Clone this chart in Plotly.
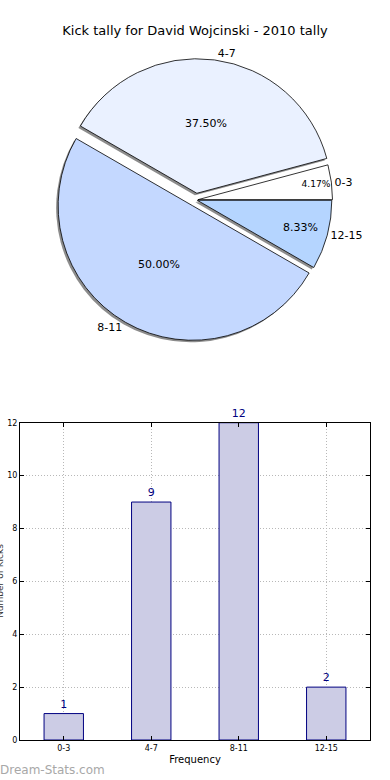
import plotly.graph_objects as go

title = "Kick tally for David Wojcinski - 2010 tally"
categories = ["0-3", "4-7", "8-11", "12-15"]
counts = [1, 9, 12, 2]
pie_colors = ["#FFFFFF", "#EAF1FF", "#C4D8FF", "#B5D5FF"]
pulls = [0.015, 0.05, 0.05, 0.01]
y_ticks = [0, 2, 4, 6, 8, 10, 12]

W, H = 390, 780
ml, mr, mt, mb = 20, 20, 0, 40
pw, ph = W - ml - mr, H - mt - mb

def px_x(x):
    return (x - ml) / pw

def px_y(y):
    return (H - mb - y) / ph

cx, cy, size = 196, 197, 284
dx = size / 2 / pw
dy = size / 2 / ph
xd = [px_x(cx) - dx, px_x(cx) + dx]
yd = [px_y(cy) - dy, px_y(cy) + dy]
sx, sy = -2 / pw, -2 / ph

common_pie = dict(labels=categories, values=counts, sort=False, direction="counterclockwise",
                  rotation=75, pull=pulls, showlegend=False)

fig = go.Figure()
# shadow
fig.add_trace(go.Pie(
    marker=dict(colors=["rgba(0,0,0,0.45)"] * 4, line=dict(width=0)),
    textinfo="none", hoverinfo="skip",
    domain=dict(x=[xd[0] + sx, xd[1] + sx], y=[yd[0] + sy, yd[1] + sy]), **common_pie,
))
# main pie with percentages
fig.add_trace(go.Pie(
    marker=dict(colors=pie_colors, line=dict(color="black", width=0.8)),
    texttemplate="%{percent:.2%}", textposition="inside", insidetextorientation="horizontal",
    textfont=dict(family="DejaVu Sans", size=11, color="black"),
    domain=dict(x=xd, y=yd), **common_pie,
))
# outside labels
fig.add_trace(go.Pie(
    marker=dict(colors=["rgba(0,0,0,0)"] * 4, line=dict(width=0)),
    texttemplate="%{label}", textposition="outside",
    outsidetextfont=dict(family="DejaVu Sans", size=11, color="black"),
    hoverinfo="skip", domain=dict(x=xd, y=yd), **common_pie,
))

fig.add_trace(go.Bar(
    x=categories, y=counts, width=0.45,
    marker=dict(color="#CCCCE5", line=dict(color="#000080", width=1)),
    text=[str(c) for c in counts], textposition="outside",
    textfont=dict(family="DejaVu Sans", size=11, color="#000080"),
    cliponaxis=False, showlegend=False,
))

axis_common = dict(
    showline=True, linecolor="black", linewidth=1, mirror="ticks",
    ticks="inside", ticklen=4, tickcolor="black",
    showgrid=True, gridcolor="#b8b8b8", griddash="1px,2px", gridwidth=1,
    tickfont=dict(family="DejaVu Sans", size=8, color="black"), zeroline=False,
)

fig.update_layout(
    width=W, height=H,
    margin=dict(l=ml, r=mr, t=mt, b=mb),
    paper_bgcolor="white", plot_bgcolor="white",
    font=dict(family="DejaVu Sans", color="black"),
    title=dict(text=title, x=0.5, xanchor="center", y=1 - 30 / H, yanchor="middle",
               font=dict(family="DejaVu Sans", size=13, color="black")),
    xaxis=dict(range=[-0.5, 3.5], domain=[0, 1],
               title=dict(text="Frequency", font=dict(size=10), standoff=4), **axis_common),
    yaxis=dict(range=[0, 12], domain=[0, px_y(421)], tickvals=y_ticks, **axis_common),
    bargap=0.5,
)

fig.add_annotation(text="Number of Kicks", textangle=-90, xref="paper", yref="paper",
                   x=px_x(0), y=px_y(580), xanchor="center", yanchor="middle",
                   showarrow=False, font=dict(family="DejaVu Sans", size=9, color="#333"))
fig.add_annotation(text="Dream-Stats.com", xref="paper", yref="paper",
                   x=px_x(-2), y=px_y(770), xanchor="left", yanchor="middle",
                   showarrow=False, font=dict(family="DejaVu Sans", size=12, color="#a8a8a8"))

fig.write_html("out.html", config={"displayModeBar": False},
               post_script="document.body.style.margin='0';")
